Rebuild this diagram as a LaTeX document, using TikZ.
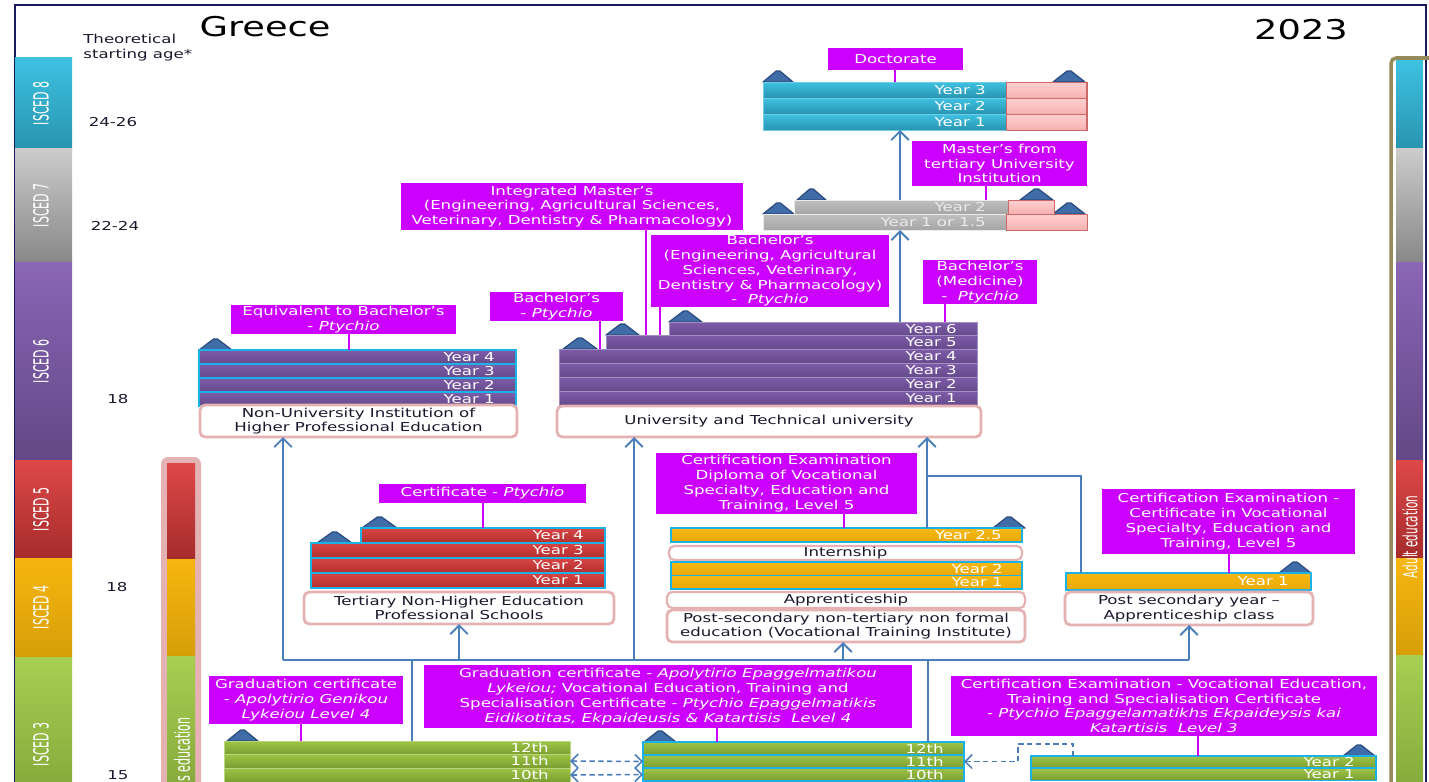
\documentclass[tikz,border=0pt]{standalone}
\usepackage{graphicx}
\usepackage{fontspec}
\setmainfont{DejaVu Sans}[FakeStretch=1.35]
\newfontfamily\narrowfont{DejaVu Sans}[FakeStretch=0.9]
\usetikzlibrary{arrows.meta}

\definecolor{mag}{RGB}{204,0,255}
\definecolor{ink}{RGB}{25,25,45}
\definecolor{navy}{RGB}{25,25,95}
\definecolor{rosy}{RGB}{228,178,178}
\definecolor{rimc}{RGB}{28,178,232}
\definecolor{flowc}{RGB}{74,126,187}
\definecolor{roofc}{RGB}{64,108,168}
\definecolor{roofd}{RGB}{42,76,126}
\definecolor{khaki}{RGB}{150,138,90}
\definecolor{pk1}{RGB}{255,208,208}
\definecolor{pk2}{RGB}{246,176,176}
\definecolor{pkd}{RGB}{205,105,105}
\definecolor{top8}{RGB}{62,194,226}  \definecolor{bot8}{RGB}{40,148,176}
\definecolor{top7}{RGB}{204,204,204} \definecolor{bot7}{RGB}{136,136,136}
\definecolor{top6}{RGB}{138,102,182} \definecolor{bot6}{RGB}{98,72,134}
\definecolor{top5}{RGB}{222,72,72}   \definecolor{bot5}{RGB}{166,44,44}
\definecolor{top4}{RGB}{246,182,16}  \definecolor{bot4}{RGB}{214,158,8}
\definecolor{top3}{RGB}{168,206,82}  \definecolor{bot3}{RGB}{132,168,58}
\definecolor{cyl}{RGB}{110,205,230}
\definecolor{gy0}{RGB}{235,235,235}
\definecolor{gy1}{RGB}{192,192,192} \definecolor{gy2}{RGB}{165,165,165}
\definecolor{pu1}{RGB}{125,92,168}  \definecolor{pu2}{RGB}{102,74,140}
\definecolor{rd1}{RGB}{215,70,68}   \definecolor{rd2}{RGB}{180,46,46}
\definecolor{ye1}{RGB}{246,184,20}  \definecolor{ye2}{RGB}{234,168,6}
\definecolor{gn1}{RGB}{158,196,70}  \definecolor{gn2}{RGB}{122,158,48}

\tikzset{
  slot/.style 2 args={anchor=north west, inner sep=0pt, outer sep=0pt,
    minimum width=(#1)*0.02cm, minimum height=(#2)*0.02cm},
  sz/.style 2 args={inner sep=0pt, outer sep=0pt,
    minimum width=(#1)*0.02cm, minimum height=(#2)*0.02cm},
  txt/.style={font=\fontsize{7}{8.4}\selectfont},
  lbl/.style={txt, fill=mag, text=white, align=center},
  school/.style={txt, draw=rosy, line width=1.6pt, rounded corners=3pt,
    fill=white, text=ink, align=center},
  yr/.style={txt, text=white, inner sep=0pt, anchor=east},
  age/.style={txt, text=ink, inner sep=0pt},
  cybar/.style={top color=top8, bottom color=bot8, draw=cyl, line width=0.4pt},
  grbar/.style={top color=gy1, bottom color=gy2, draw=gy0, line width=0.4pt},
  pubar/.style={top color=pu1, bottom color=pu2, draw=pu1!70!white, line width=0.4pt},
  rdbar/.style={top color=rd1, bottom color=rd2},
  yebar/.style={top color=ye1, bottom color=ye2},
  gnbar/.style={top color=gn1, bottom color=gn2, draw=gn1!70!white, line width=0.4pt},
  ext/.style={top color=pk1, bottom color=pk2, draw=pkd, line width=0.5pt},
  rim/.style={draw=rimc, line width=1.1pt},
  tie/.style={draw=mag, line width=1.3pt},
  flow/.style={draw=flowc, line width=1.1pt, -{Straight Barb[length=5pt,width=10pt]}},
  link/.style={draw=flowc, line width=0.9pt},
  dlink/.style={draw=flowc, line width=0.9pt, dash pattern=on 3pt off 2pt},
  roof/.style={fill=roofc, draw=roofd, line width=0.7pt, line join=round},
  isced/.style={rotate=90, text=white, inner sep=0pt,
    font=\narrowfont\fontsize{7}{8}\selectfont},
}

\begin{document}
\begin{tikzpicture}[x=0.02cm, y=-0.02cm]
\useasboundingbox (0,0) rectangle (1429,781);
\clip (0,0) rectangle (1429,781);

%FRAME
\draw[navy, line width=0.9pt] (15,800) -- (15,5) -- (1426,5) -- (1426,800);
\node[font=\fontsize{15.5}{18}\selectfont] (ttl) at (265,27) {Greece};
\node[font=\fontsize{15.5}{18}\selectfont] (year) at (1301,30) {2023};

%ISCED LEVELS
\foreach \n/\y/\hgt/\m in {8/57/91/103, 7/148/114/205, 6/262/198/361, 5/460/98/509, 4/558/99/607, 3/657/140/744}{
  \node[slot={57}{\hgt}, top color=top\n, bottom color=bot\n] (isc\n) at (15,\y) {};
  \node[isced] at (41,\m) {\scalebox{1}[1.7]{ISCED \n}};
}
\draw[khaki, line width=2pt, rounded corners=3pt] (1391,900) |- (1430,58);
\foreach \n/\y/\hgt in {8/60/88, 7/148/114, 6/262/198, 5/460/98, 4/558/97, 3/655/140}
  \node[slot={27}{\hgt}, top color=top\n, bottom color=bot\n] (ad\n) at (1396,\y) {};
\node[isced, font=\narrowfont\fontsize{6.6}{8}\selectfont] (adult) at (1410,537) {\scalebox{1}[1.7]{Adult education}};
\fill[rosy, rounded corners=4pt] (161,457) rectangle (201,900);
\foreach \n/\y/\hgt in {5/463/96, 4/559/97, 3/656/140}
  \node[slot={28}{\hgt}, top color=top\n, bottom color=bot\n] (se\n) at (167,\y) {};
\node[isced, anchor=east] (sec) at (182,717) {\scalebox{1}[1.7]{s education}};

%AGES
\node[age, align=left, anchor=north west] (tsa) at (83,34) {Theoretical\\starting age*};
\node[age] (a8) at (113,122) {24-26};
\node[age] (a7) at (115,226) {22-24};
\node[age] (a6) at (118,399) {18};
\node[age] (a4) at (117,587) {18};
\node[age] (a3) at (118,775) {15};

%ROOFS
\foreach \xa/\xb/\yb in {763/793/82,1053/1085/82,797/826/200,763/794/214,1020/1053/200,1053/1085/214,563/597/349,606/639/335,669/702/322,199/232/350,317/352/543,362/397/528,993/1025/528,1279/1311/573,227/258/741,644/676/742,1343/1375/756}
  \filldraw[roof] (\xa,\yb) -- ({\xa+0.44*(\xb-\xa)},{\yb-11}) -- ({\xa+0.56*(\xb-\xa)},{\yb-11}) -- (\xb,\yb) -- cycle;

%DOCTORATE
\foreach \n/\y in {3/82,2/98,1/114}{
  \node[cybar, slot={243}{16}] (d\n) at (763,\y) {};
  \node[ext, slot={81}{16}] (e\n) at (1006,\y) {};
  \node[yr] at ([xshift=-0.4cm]d\n.east) {Year \n};
}
\draw[pkd, line width=1.4pt] (e3.north east) -- (e1.south east);

%MASTER
\node[grbar, slot={214}{14}] (m2) at (794,200) {};
\node[ext, slot={46}{14}] (f2) at (1008,200) {};
\node[grbar, slot={243}{16}] (m1) at (763,214) {};
\node[ext, slot={81}{16}] (f1) at (1006,214) {};
\node[yr, text=gy0] at ([xshift=-0.44cm]m2.east) {Year 2};
\node[yr, text=gy0] at ([xshift=-0.4cm]m1.east) {Year 1 or 1.5};

%UNIVERSITY
\foreach \n/\x/\y in {6/669/322,5/606/335,4/559/349,3/559/363,2/559/377,1/559/391}{
  \node[pubar, slot={977-\x}{14}] (u\n) at (\x,\y) {};
  \node[yr] at ([xshift=-0.4cm]u\n.east) {Year \n};
}
\node[school, sz={424}{31}] (uni) at (769,421.5) {University and Technical university};

%NON-UNIVERSITY
\foreach \n/\y in {4/350,3/364,2/378,1/392}{
  \node[pubar, rim, line width=0.8pt, slot={317}{14}] (n\n) at (199,\y) {};
  \node[yr] at ([xshift=-0.42cm]n\n.east) {Year \n};
}
\node[school, sz={317}{32}] (nonuni) at (358.5,421) {Non-University Institution of\\Higher Professional Education};

%TERTIARY NON-HIGHER
\foreach \n/\x/\y in {4/361/528,3/311/543,2/311/558,1/311/573}{
  \node[rdbar, rim, slot={605-\x}{15}] (t\n) at (\x,\y) {};
  \node[yr] at ([xshift=-0.42cm]t\n.east) {Year \n};
}
\node[school, sz={310}{32}] (tns) at (459,608) {Tertiary Non-Higher Education\\Professional Schools};

%POST-SECONDARY
\node[yebar, rim, slot={351}{14}] (p25) at (671,528) {};
\node[yr] at ([xshift=-0.4cm]p25.east) {Year 2.5};
\node[school, sz={353}{14}, line width=1.3pt] (intern) at (845.5,553) {Internship};
\foreach \n/\y in {2/562,1/575.5}{
  \node[yebar, rim, slot={351}{13.5}] (p\n) at (671,\y) {};
  \node[yr] at ([xshift=-0.38cm]p\n.east) {Year \n};
}
\node[school, sz={358}{16}, line width=1.3pt] (appr) at (846,600) {Apprenticeship};
\node[school, sz={358}{32}] (post) at (846,626) {Post-secondary non-tertiary non formal\\education (Vocational Training Institute)};
\node[yebar, rim, slot={245}{17}] (q1) at (1066,573) {};
\node[yr] at ([xshift=-0.44cm]q1.east) {Year 1};
\node[school, sz={248}{33}] (psy) at (1189,608.5) {Post secondary year --\\Apprenticeship class};

%UPPER SECONDARY
\foreach \n/\y in {12/741,11/754,10/768}{
  \node[gnbar, slot={346}{14}] (g\n) at (224,\y) {};
  \node[yr] at ([xshift=-0.42cm]g\n.east) {\n{}th};
}
\foreach \n/\y in {12/742,11/755,10/768}{
  \node[gnbar, rim, slot={321}{13}] (v\n) at (643,\y) {};
  \node[yr] at ([xshift=-0.4cm]v\n.east) {\n{}th};
}
\foreach \n/\y in {2/756,1/768}{
  \node[gnbar, rim, slot={345}{12.5}] (l\n) at (1031,\y) {};
  \node[yr] at ([xshift=-0.42cm]l\n.east) {Year \n};
}

%LABELS
\node[lbl, sz={135}{22}] (doc) at (895.5,59) {Doctorate};
\node[lbl, sz={175}{45}] (mst) at (999.5,163.5) {Master’s from\\tertiary University\\Institution};
\node[lbl, sz={342}{47}] (intm) at (572,206.5) {Integrated Master’s\\(Engineering, Agricultural Sciences,\\Veterinary, Dentistry \& Pharmacology)};
\node[lbl, sz={238}{72}] (beng) at (770,271) {Bachelor’s\\(Engineering, Agricultural\\Sciences, Veterinary,\\Dentistry \& Pharmacology)\\-\ \ \textit{Ptychio}};
\node[lbl, sz={114}{44}] (bmed) at (980,282) {Bachelor’s\\(Medicine)\\-\ \ \textit{Ptychio}};
\node[lbl, sz={133}{29}] (bach) at (556.5,306.5) {Bachelor’s\\- \textit{Ptychio}};
\node[lbl, sz={225}{29}] (eqb) at (343.5,319.5) {Equivalent to Bachelor’s\\- \textit{Ptychio}};
\node[lbl, sz={207}{19}] (cert) at (482.5,493.5) {Certificate - \textit{Ptychio}};
\node[lbl, sz={261}{61}] (dipl) at (786.5,483.5) {Certification Examination\\Diploma of Vocational\\Specialty, Education and\\Training, Level 5};
\node[lbl, sz={253}{65}] (cvs) at (1228.5,521.5) {Certification Examination -\\Certificate in Vocational\\Specialty, Education and\\Training, Level 5};
\node[lbl, sz={194}{48}] (grg) at (306,700) {Graduation certificate\\- \textit{Apolytirio Genikou}\\\textit{Lykeiou Level 4}};
\node[lbl, sz={488}{63}] (grv) at (668,696.5) {Graduation certificate - \textit{Apolytirio Epaggelmatikou}\\\textit{Lykeiou;} Vocational Education, Training and\\Specialisation Certificate - \textit{Ptychio Epaggelmatikis}\\\textit{Eidikotitas, Ekpaideusis \& Katartisis\ \ Level 4}};
\node[lbl, sz={426}{60}] (cl3) at (1164,706) {Certification Examination - Vocational Education,\\Training and Specialisation Certificate\\- \textit{Ptychio Epaggelamatikhs Ekpaideysis kai}\\\textit{Katartisis\ \ Level 3}};

%TIES
\draw[tie] (doc.south -| 895,0) -- (d3.north -| 895,0);
\draw[tie] (mst.south -| 986,0) -- (m2.north -| 986,0);
\draw[tie] (intm.south -| 646,0) -- (u5.north -| 646,0);
\draw[tie] (beng.south -| 660,0) -- (u5.north -| 660,0);
\draw[tie] (bmed.south -| 945,0) -- (u6.north -| 945,0);
\draw[tie] (bach.south -| 600,0) -- (u4.north -| 600,0);
\draw[tie] (eqb.south -| 349,0) -- (n4.north -| 349,0);
\draw[tie] (cert.south -| 483,0) -- (t4.north -| 483,0);
\draw[tie] (dipl.south -| 844,0) -- (p25.north -| 844,0);
\draw[tie] (cvs.south -| 1229,0) -- (q1.north -| 1229,0);
\draw[tie] (grg.south -| 301,0) -- (g12.north -| 301,0);
\draw[tie] (grv.south -| 717,0) -- (v12.north -| 717,0);
\draw[tie] (cl3.south -| 1198,0) -- (l2.north -| 1198,0);

%EDGE
\coordinate (busw) at (283,660);
\coordinate (buse) at (1189,660);
\coordinate (jn) at (927,476);
\coordinate (bend) at (1018,744);
\draw[link] (busw) -- (buse);
\draw[flow] (busw) -- (nonuni.south -| busw);
\draw[flow] (busw -| 634,0) -- (uni.south -| 634,0);
\draw[flow] (busw -| 459,0) -- (tns.south -| 459,0);
\draw[flow] (busw -| 843,0) -- (post.south -| 843,0);
\draw[flow] (buse) -- (psy.south -| buse);
\draw[link] (g12.north -| 412,0) -- (busw -| 412,0);
\draw[link] (v12.north -| 928,0) -- (busw -| 928,0);
\draw[flow] (p25.north -| 927,0) -- (uni.south -| 927,0);
\draw[link] (q1.north -| 1081,0) |- (jn);
\draw[flow] (u6.north -| 900,0) -- (m1.south -| 900,0);
\draw[flow] (m2.north -| 900,0) -- (d1.south -| 900,0);
\draw[dlink, {Straight Barb[length=4pt,width=8pt]}-{Straight Barb[length=4pt,width=8pt]}] (g11.east) -- (v11.west);
\draw[dlink, {Straight Barb[length=4pt,width=8pt]}-{Straight Barb[length=4pt,width=8pt]}] (g10.east) -- (v10.west);
\draw[dlink, -{Straight Barb[length=4pt,width=8pt]}] (l2.north -| 1073,0) |- (bend) |- (v11.east);
\end{tikzpicture}
\end{document}
